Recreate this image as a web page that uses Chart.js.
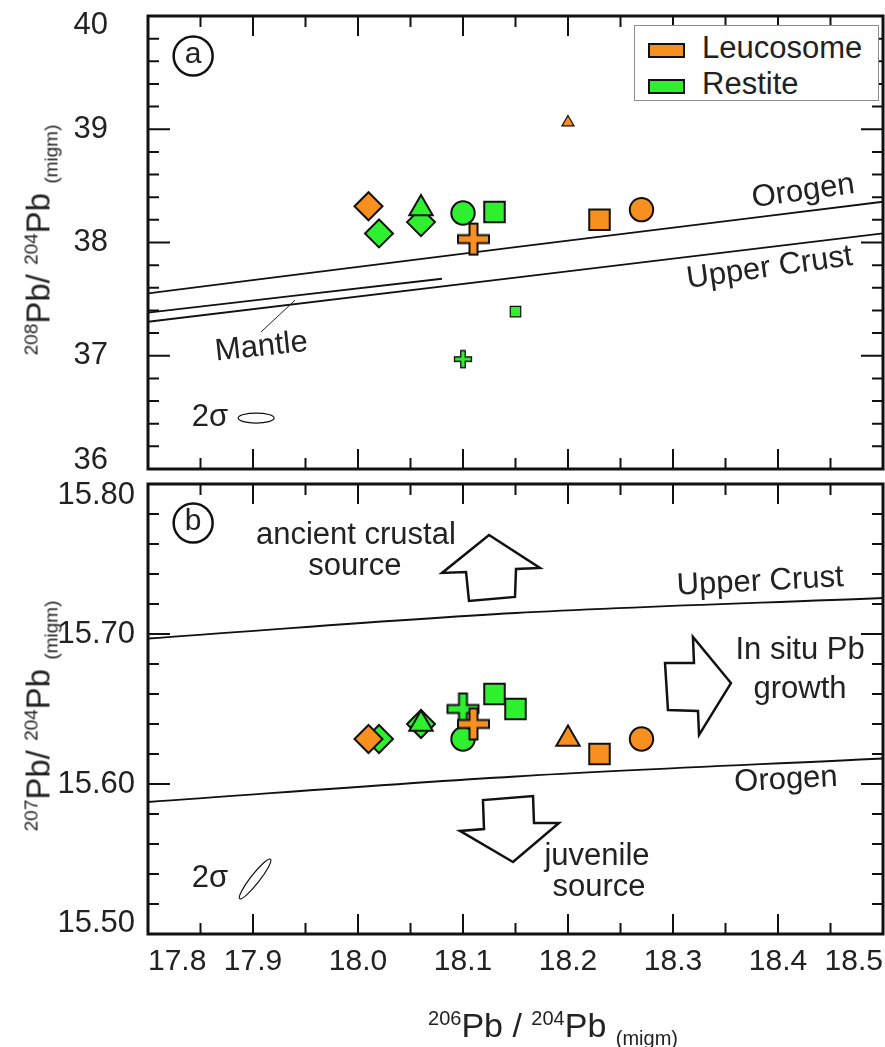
<!DOCTYPE html>
<html>
<head>
<meta charset="utf-8">
<script src="https://cdn.jsdelivr.net/npm/chart.js@4.4.1/dist/chart.umd.min.js"></script>
<style>
  html, body { margin: 0; padding: 0; background: #fff; }
  body { width: 885px; height: 1047px; position: relative; overflow: hidden;
         font-family: 'Liberation Sans', Arial, sans-serif; color: #222; }
  .box { position: absolute; left: 0; width: 885px; }
  #boxA { top: 0; height: 480px; }
  #boxB { top: 480px; height: 567px; }
  .title { position: absolute; white-space: nowrap; font-size: 33px; line-height: 1; }
  .title sup, .title sub { font-size: 19px; line-height: 0; }
  .ytitle { transform: translate(-50%, -50%) rotate(-90deg); }
  .xtitle { transform: translate(-50%, -50%); font-size: 34px; }
  .xtitle sup, .xtitle sub { font-size: 20px; }
  .legend { position: absolute; left: 634px; top: 25px; width: 243px; height: 74px;
            border: 1.5px solid #8c8c8c; background: #fff; }
  .legend .item { position: absolute; left: 0; height: 32px; font-size: 31px; line-height: 32px; }
  .legend .sw { position: absolute; left: 13px; top: 9px; width: 33px; height: 11px; border: 2px solid #111; }
  .legend .lbl { position: absolute; left: 67px; top: -2px; white-space: nowrap; }
</style>
</head>
<body>
<div class="box" id="boxA"><canvas id="chartA" width="885" height="480"></canvas></div>
<div class="box" id="boxB"><canvas id="chartB" width="885" height="567"></canvas></div>

<div class="title ytitle" style="left:38px; top:240px;"><sup>208</sup>Pb/ <sup>204</sup>Pb <sub>(migm)</sub></div>
<div class="title ytitle" style="left:38px; top:716px;"><sup>207</sup>Pb/ <sup>204</sup>Pb <sub>(migm)</sub></div>
<div class="title xtitle" style="left:553px; top:1025px;"><sup>206</sup>Pb / <sup>204</sup>Pb <sub>(migm)</sub></div>

<div class="legend">
  <div class="item" style="top:8px;"><div class="sw" style="background:#f7901e"></div><div class="lbl">Leucosome</div></div>
  <div class="item" style="top:44px;"><div class="sw" style="background:#2ef02e"></div><div class="lbl">Restite</div></div>
</div>

<script>
const ORANGE = '#f7901e';
const GREEN = '#2ef02e';

// panel (a): 208Pb/204Pb vs 206Pb/204Pb
const leucoXA = [18.01, 18.11, 18.20, 18.23, 18.27];
const leucoYA = [38.32, 38.03, 39.06, 38.20, 38.29];
const leucoSymA = ['diamond', 'cross', 'triangle-s', 'square', 'circle'];
const restXA = [18.02, 18.06, 18.06, 18.10, 18.13, 18.15, 18.10];
const restYA = [38.08, 38.18, 38.30, 38.26, 38.27, 37.39, 36.97];
const restSymA = ['diamond', 'diamond', 'triangle', 'circle', 'square', 'square-s', 'cross-s'];

// panel (b): 207Pb/204Pb vs 206Pb/204Pb
const leucoXB = [18.01, 18.11, 18.20, 18.23, 18.27];
const leucoYB = [15.63, 15.64, 15.63, 15.62, 15.63];
const leucoSymB = ['diamond', 'cross', 'triangle', 'square', 'circle'];
const restXB = [18.02, 18.06, 18.06, 18.10, 18.10, 18.13, 18.15];
const restYB = [15.63, 15.64, 15.64, 15.65, 15.63, 15.66, 15.65];
const restSymB = ['diamond', 'diamond', 'triangle', 'cross', 'circle', 'square', 'square'];

// reference growth curves
const curveX = [17.8, 18.15, 18.5];
const orogenA = [37.55, 37.96, 38.36];
const upperCrustA = [37.30, 37.69, 38.08];
const mantleX = [17.8, 17.94, 18.08];
const mantleA = [37.38, 37.53, 37.68];
const upperCrustB = [15.697, 15.714, 15.724];
const orogenB = [15.588, 15.605, 15.617];

// axis ranges
const xRange = [17.8, 18.5];
const yRangeA = [36, 40];
const yRangeB = [15.5, 15.8];

const SYM = {
  diamond: { style: 'rectRot', r: 14 },
  square: { style: 'rect', r: 14.5 },
  circle: { style: 'circle', r: 11.7 },
  triangle: { style: 'triangle', r: 13.5 },
  'triangle-s': { style: 'triangle', r: 7, bw: 1.2 },
  'square-s': { style: 'rect', r: 7.4, bw: 1.2 },
  cross: { cross: [31, 8, 2] },
  'cross-s': { cross: [17, 4.5, 1.3] }
};

function makeCross(span, arm, lw, fill) {
  const c = document.createElement('canvas');
  const s = Math.ceil(span + lw * 2);
  c.width = c.height = s;
  const g = c.getContext('2d');
  const m = s / 2, h = span / 2, a = arm / 2;
  g.beginPath();
  g.moveTo(m - a, m - h); g.lineTo(m + a, m - h); g.lineTo(m + a, m - a);
  g.lineTo(m + h, m - a); g.lineTo(m + h, m + a); g.lineTo(m + a, m + a);
  g.lineTo(m + a, m + h); g.lineTo(m - a, m + h); g.lineTo(m - a, m + a);
  g.lineTo(m - h, m + a); g.lineTo(m - h, m - a); g.lineTo(m - a, m - a);
  g.closePath();
  g.fillStyle = fill; g.fill();
  g.lineWidth = lw; g.strokeStyle = '#111'; g.stroke();
  return c;
}

function markerSet(label, xs, ys, syms, color) {
  return {
    label: label,
    data: xs.map((x, i) => ({ x: x, y: ys[i] })),
    backgroundColor: color,
    borderColor: '#111',
    pointStyle: syms.map(s => SYM[s].cross ? makeCross(...SYM[s].cross, color) : SYM[s].style),
    pointRadius: syms.map(s => SYM[s].r || 10),
    pointHoverRadius: syms.map(s => SYM[s].r || 10),
    pointBorderWidth: syms.map(s => SYM[s].bw || 2)
  };
}

function curveSet(xs, ys) {
  return {
    data: xs.map((x, i) => ({ x: x, y: ys[i] })),
    showLine: true, pointRadius: 0, borderColor: '#111', borderWidth: 1.8,
    cubicInterpolationMode: 'monotone', fill: false
  };
}

function stepsOf(scale, step, major) {
  const n = Math.round((scale.max - scale.min) / step);
  const out = [];
  for (let i = 0; i <= n; i++) {
    const v = scale.min + i * step;
    const q = v / major;
    out.push({ p: scale.getPixelForValue(v), major: Math.abs(q - Math.round(q)) < 1e-6 });
  }
  return out;
}

const FONT = "31px 'Liberation Sans', Arial, sans-serif";

// frame, inward ticks, y tick labels and the annotations of each panel
const panelPlugin = {
  id: 'panel',
  afterDraw(chart, args, o) {
    const { ctx, chartArea: a, scales: { x, y } } = chart;
    const X = v => x.getPixelForValue(v), Y = v => y.getPixelForValue(v);
    ctx.save();

    ctx.strokeStyle = '#222'; ctx.lineWidth = 1;
    (o.leaders || []).forEach(l => {
      ctx.beginPath(); ctx.moveTo(X(l[0]), Y(l[1])); ctx.lineTo(X(l[2]), Y(l[3])); ctx.stroke();
    });

    // block arrows
    ctx.lineWidth = 2.5; ctx.strokeStyle = '#111'; ctx.fillStyle = '#fff'; ctx.lineJoin = 'miter';
    (o.arrows || []).forEach(poly => {
      ctx.beginPath();
      poly.forEach((pt, i) => i ? ctx.lineTo(X(pt[0]), Y(pt[1])) : ctx.moveTo(X(pt[0]), Y(pt[1])));
      ctx.closePath(); ctx.fill(); ctx.stroke();
    });

    // 2 sigma ellipses
    ctx.lineWidth = 1.2;
    (o.ellipses || []).forEach(e => {
      ctx.beginPath();
      ctx.ellipse(X(e.x), Y(e.y), e.rx, e.ry, e.rot * Math.PI / 180, 0, Math.PI * 2);
      ctx.stroke();
    });

    // texts
    ctx.fillStyle = '#222'; ctx.font = FONT; ctx.textAlign = 'center'; ctx.textBaseline = 'middle';
    (o.texts || []).forEach(t => {
      ctx.save();
      ctx.translate(X(t.x), Y(t.y));
      ctx.rotate((t.rot || 0) * Math.PI / 180);
      ctx.fillText(t.t, 0, 0);
      ctx.restore();
    });

    // panel letter
    if (o.badge) {
      const bx = X(o.badge.x), by = Y(o.badge.y);
      ctx.lineWidth = 2.5;
      ctx.beginPath(); ctx.arc(bx, by, 19.5, 0, Math.PI * 2); ctx.stroke();
      ctx.font = "30px 'Liberation Sans', Arial, sans-serif";
      ctx.fillText(o.badge.t, bx, by - 1);
    }

    // inward ticks on all four sides
    ctx.strokeStyle = '#111'; ctx.lineWidth = 2;
    ctx.beginPath();
    stepsOf(x, o.xStep, o.xMajor).forEach(t => {
      const len = t.major ? 20 : 11;
      ctx.moveTo(t.p, a.top); ctx.lineTo(t.p, a.top + len);
      ctx.moveTo(t.p, a.bottom); ctx.lineTo(t.p, a.bottom - len);
    });
    stepsOf(y, o.yStep, o.yMajor).forEach(t => {
      const len = t.major ? 22 : 11;
      ctx.moveTo(a.left, t.p); ctx.lineTo(a.left + len, t.p);
      ctx.moveTo(a.right, t.p); ctx.lineTo(a.right - len, t.p);
    });
    ctx.stroke();

    // frame
    ctx.lineWidth = 3;
    ctx.strokeRect(a.left, a.top, a.right - a.left, a.bottom - a.top);

    // y tick labels (edge labels pulled inside like the original)
    ctx.font = FONT; ctx.textAlign = 'right'; ctx.fillStyle = '#222';
    const ticks = y.ticks;
    ticks.forEach((t, i) => {
      let py = Y(t.value);
      if (i === 0) py -= o.edge;
      if (i === ticks.length - 1) py += o.edge;
      ctx.fillText(t.value.toFixed(o.digits), o.labelX, py);
    });
    ctx.restore();
  }
};

Chart.defaults.font.family = "'Liberation Sans', Arial, sans-serif";
Chart.defaults.color = '#222';

function baseOptions(yRange, yStep, padding, xTicks, xHeight, panel) {
  return {
    responsive: false, animation: false, devicePixelRatio: 1,
    layout: { padding: padding, autoPadding: false },
    plugins: { legend: { display: false }, tooltip: { enabled: false }, panel: panel },
    scales: {
      x: {
        type: 'linear', min: xRange[0], max: xRange[1],
        grid: { display: false, drawTicks: false }, border: { display: false },
        ticks: xTicks,
        afterFit: s => { s.height = xHeight; s.paddingLeft = 0; s.paddingRight = 0; }
      },
      y: {
        type: 'linear', min: yRange[0], max: yRange[1],
        grid: { display: false, drawTicks: false }, border: { display: false },
        ticks: { display: false, stepSize: yStep },
        afterFit: s => { s.width = 148; s.paddingTop = 0; s.paddingBottom = 0; }
      }
    }
  };
}

new Chart(document.getElementById('chartA'), {
  type: 'scatter',
  plugins: [panelPlugin],
  data: {
    datasets: [
      markerSet('Leucosome', leucoXA, leucoYA, leucoSymA, ORANGE),
      markerSet('Restite', restXA, restYA, restSymA, GREEN),
      curveSet(curveX, orogenA),
      curveSet(curveX, upperCrustA),
      curveSet(mantleX, mantleA)
    ]
  },
  options: baseOptions(yRangeA, 1, { top: 16, right: 2, bottom: 11, left: 0 },
    { display: false, stepSize: 0.1 }, 0, {
      xStep: 0.05, xMajor: 0.1, yStep: 0.2, yMajor: 1, digits: 0, edge: 9, labelX: 108,
      texts: [
        { t: 'Orogen', x: 18.424, y: 38.45, rot: -8 },
        { t: 'Upper Crust', x: 18.392, y: 37.775, rot: -8 },
        { t: 'Mantle', x: 17.908, y: 37.077, rot: -6 },
        { t: '2σ', x: 17.859, y: 36.459 }
      ],
      leaders: [[17.9076, 37.21, 17.94, 37.49]],
      ellipses: [{ x: 17.903, y: 36.45, rx: 18, ry: 5, rot: 0 }],
      badge: { t: 'a', x: 17.843, y: 39.647 }
    })
});

new Chart(document.getElementById('chartB'), {
  type: 'scatter',
  plugins: [panelPlugin],
  data: {
    datasets: [
      markerSet('Leucosome', leucoXB, leucoYB, leucoSymB, ORANGE),
      markerSet('Restite', restXB, restYB, restSymB, GREEN),
      curveSet(curveX, upperCrustB),
      curveSet(curveX, orogenB)
    ]
  },
  options: baseOptions(yRangeB, 0.1, { top: 4, right: 2, bottom: 0, left: 0 },
    { display: true, stepSize: 0.1, align: 'inner', padding: 13, maxRotation: 0, autoSkip: false,
      font: { size: 30, lineHeight: 1 }, color: '#222', callback: v => v.toFixed(1) }, 113, {
      xStep: 0.05, xMajor: 0.1, yStep: 0.02, yMajor: 0.1, digits: 2, edge: 11, labelX: 135,
      texts: [
        { t: 'ancient crustal', x: 17.998, y: 15.766 },
        { t: 'source', x: 17.997, y: 15.7447 },
        { t: 'Upper Crust', x: 18.383, y: 15.7347, rot: -3 },
        { t: 'In situ Pb', x: 18.421, y: 15.6893 },
        { t: 'growth', x: 18.421, y: 15.6627 },
        { t: 'Orogen', x: 18.4076, y: 15.6027, rot: -3 },
        { t: 'juvenile', x: 18.2276, y: 15.552 },
        { t: 'source', x: 18.2295, y: 15.5307 },
        { t: '2σ', x: 17.859, y: 15.5367 }
      ],
      arrows: [
        [[18.1248, 15.766], [18.1733, 15.744], [18.1505, 15.7433], [18.1495, 15.7247],
         [18.1057, 15.722], [18.1029, 15.7413], [18.080, 15.7407]],
        [[18.3552, 15.6673], [18.3248, 15.6327], [18.3238, 15.6487], [18.2952, 15.6493],
         [18.2924, 15.6807], [18.32, 15.6807], [18.319, 15.698]],
        [[18.1476, 15.548], [18.0971, 15.5687], [18.12, 15.570], [18.119, 15.5893],
         [18.1667, 15.592], [18.1676, 15.574], [18.1914, 15.574]]
      ],
      ellipses: [{ x: 17.902, y: 15.5367, rx: 25, ry: 4.5, rot: -52 }],
      badge: { t: 'b', x: 17.843, y: 15.774 }
    })
});
</script>
</body>
</html>
